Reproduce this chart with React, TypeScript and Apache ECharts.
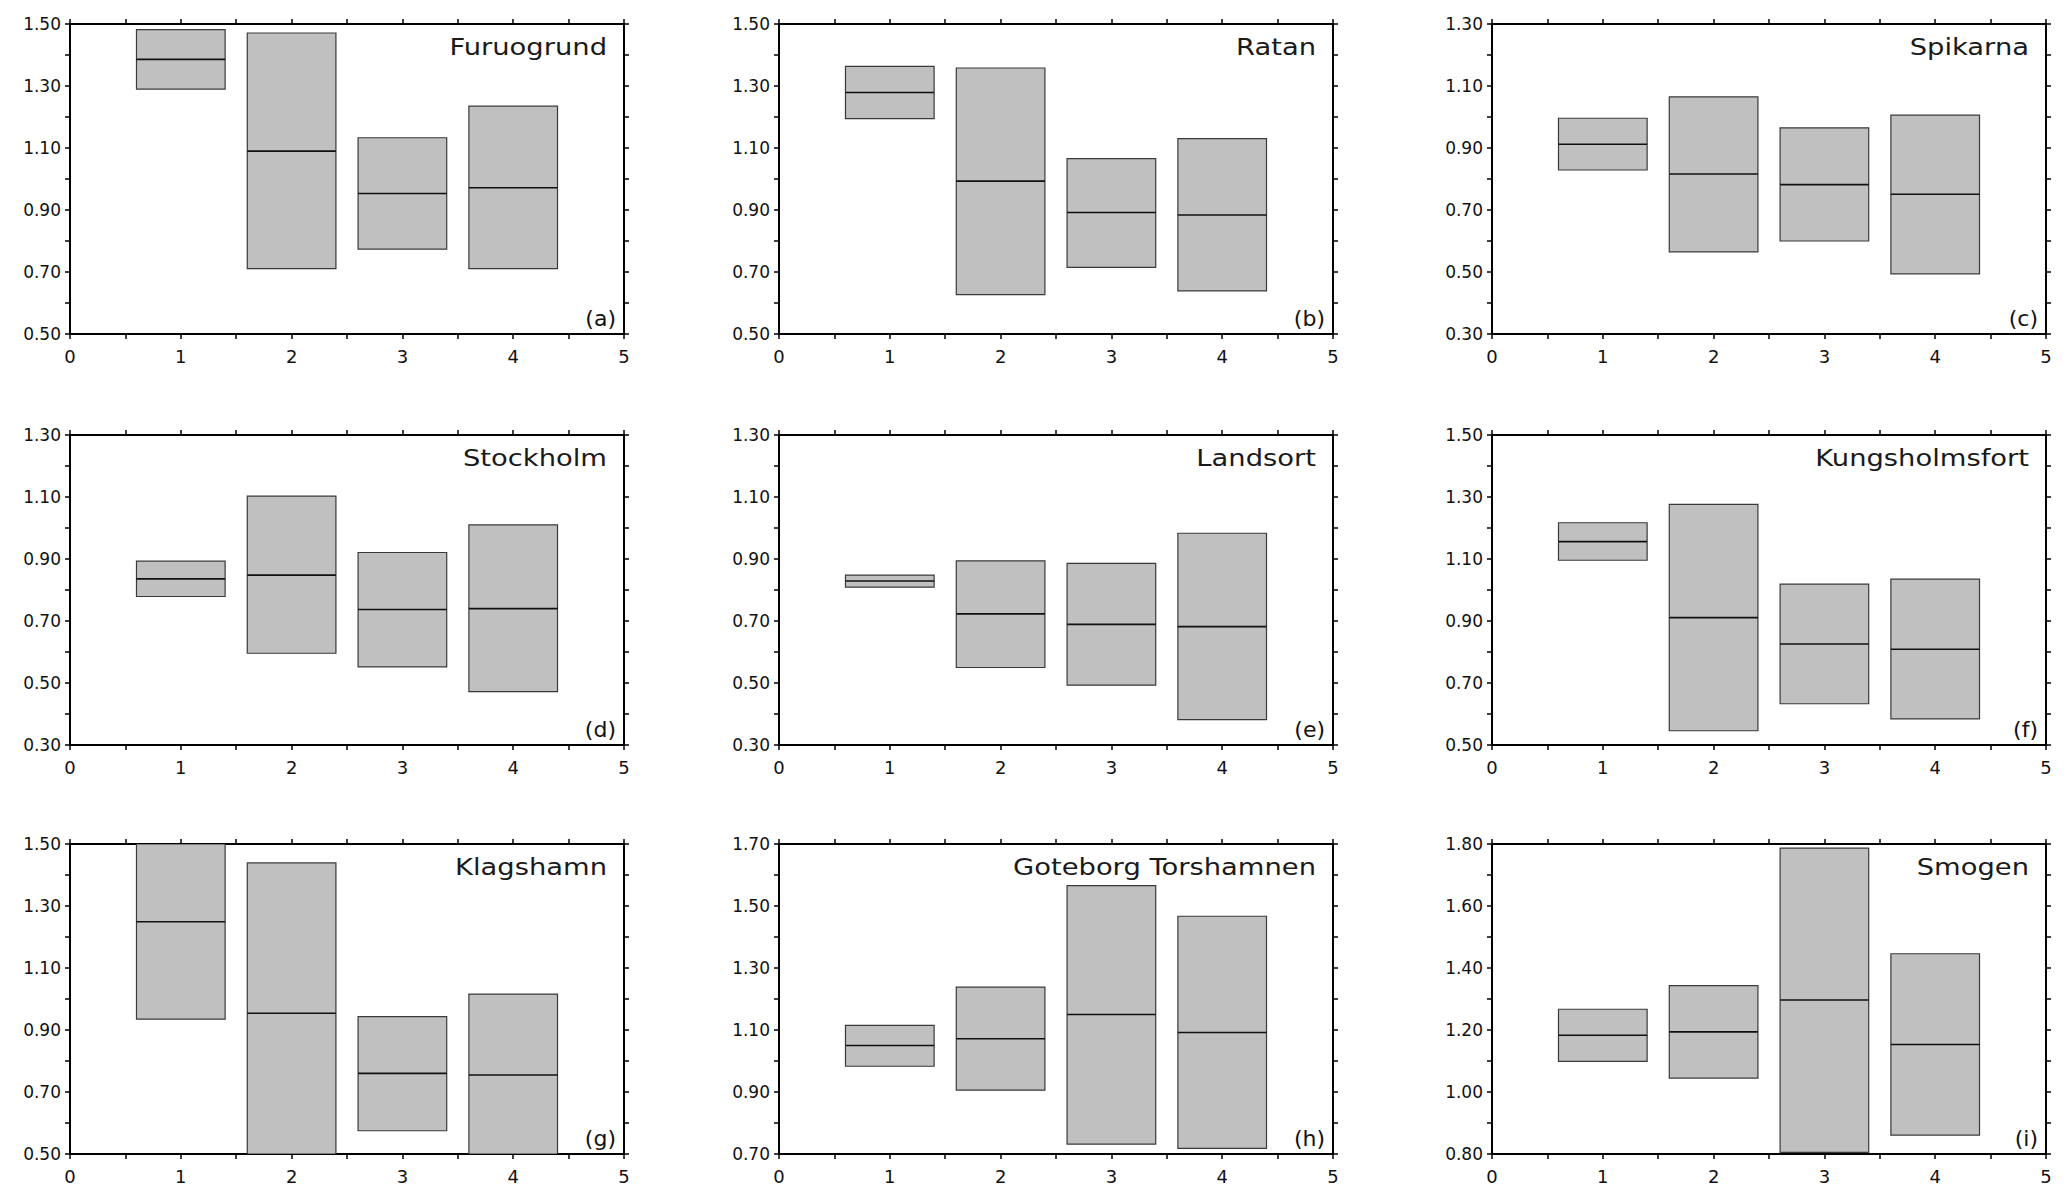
import React, { useEffect, useRef } from "react";
import * as echarts from "echarts";

const stations = [
  "Furuogrund", "Ratan", "Spikarna",
  "Stockholm", "Landsort", "Kungsholmsfort",
  "Klagshamn", "Goteborg Torshamnen", "Smogen",
];
const panelTags = ["(a)", "(b)", "(c)", "(d)", "(e)", "(f)", "(g)", "(h)", "(i)"];
const categories = [1, 2, 3, 4];
const xTickLabels = ["0", "1", "2", "3", "4", "5"];
const yMin = [0.5, 0.5, 0.3, 0.3, 0.3, 0.5, 0.5, 0.7, 0.8];
const yMax = [1.5, 1.5, 1.3, 1.3, 1.3, 1.5, 1.5, 1.7, 1.8];
const yStep = [0.2, 0.2, 0.2, 0.2, 0.2, 0.2, 0.2, 0.2, 0.2];

const boxHigh = [
  [1.482, 1.471, 1.133, 1.235],
  [1.363, 1.358, 1.066, 1.130],
  [0.996, 1.065, 0.965, 1.006],
  [0.893, 1.103, 0.921, 1.010],
  [0.848, 0.894, 0.886, 0.983],
  [1.217, 1.276, 1.019, 1.035],
  [1.500, 1.439, 0.943, 1.016],
  [1.115, 1.238, 1.566, 1.467],
  [1.267, 1.343, 1.787, 1.446],
];
const boxLow = [
  [1.290, 0.711, 0.774, 0.711],
  [1.195, 0.627, 0.715, 0.639],
  [0.829, 0.565, 0.600, 0.494],
  [0.779, 0.596, 0.552, 0.472],
  [0.809, 0.550, 0.493, 0.382],
  [1.096, 0.546, 0.633, 0.584],
  [0.935, 0.500, 0.575, 0.500],
  [0.983, 0.906, 0.732, 0.718],
  [1.099, 1.045, 0.805, 0.861],
];
const boxMedian = [
  [1.386, 1.090, 0.953, 0.972],
  [1.279, 0.993, 0.892, 0.884],
  [0.912, 0.816, 0.782, 0.751],
  [0.836, 0.848, 0.737, 0.740],
  [0.829, 0.723, 0.689, 0.682],
  [1.156, 0.911, 0.826, 0.809],
  [1.249, 0.954, 0.760, 0.755],
  [1.050, 1.072, 1.150, 1.092],
  [1.183, 1.194, 1.297, 1.153],
];

const colLeft = [70, 779, 1492];
const rowTop = [24, 435, 844];
const plotW = 554;
const plotH = 310;
const halfBox = 0.4;

function buildOption() {
  const grid: any[] = [];
  const xAxis: any[] = [];
  const yAxis: any[] = [];
  const series: any[] = [];
  const graphic: any[] = [];
  const axisLine = { show: true, onZero: false, lineStyle: { color: "#000", width: 2 } };
  const tick = { show: true, length: 5, lineStyle: { color: "#000", width: 1.5 } };
  const minor = { show: true, splitNumber: 2, length: 5, lineStyle: { color: "#000", width: 1.5 } };

  stations.forEach((name, i) => {
    const left = colLeft[i % 3];
    const top = rowTop[Math.floor(i / 3)];
    grid.push({ left, top, width: plotW, height: plotH, containLabel: false });
    const xBase = {
      type: "value", gridIndex: i, min: 0, max: xTickLabels.length - 1, interval: 1,
      axisLine, axisTick: tick, minorTick: minor, splitLine: { show: false },
    };
    xAxis.push({
      ...xBase, position: "bottom",
      axisLabel: { show: true, fontSize: 18, color: "#111", margin: 13, fontFamily: "DejaVu Sans",
        formatter: (v: number) => xTickLabels[Math.round(v)] ?? "" },
    });
    xAxis.push({ ...xBase, position: "top", axisLabel: { show: false } });
    const yBase = {
      type: "value", gridIndex: i, min: yMin[i], max: yMax[i], interval: yStep[i],
      axisLine, axisTick: tick, minorTick: minor, splitLine: { show: false },
    };
    yAxis.push({
      ...yBase, position: "left",
      axisLabel: { show: true, fontSize: 17, color: "#111", margin: 9, fontFamily: "DejaVu Sans",
        formatter: (v: number) => v.toFixed(2) },
    });
    yAxis.push({ ...yBase, position: "right", axisLabel: { show: false } });

    series.push({
      type: "custom",
      xAxisIndex: 2 * i,
      yAxisIndex: 2 * i,
      clip: true,
      data: categories.map((c, k) => [c, boxLow[i][k], boxHigh[i][k], boxMedian[i][k]]),
      renderItem: (params: any, api: any) => {
        const x = api.value(0);
        const lo = api.value(1);
        const hi = api.value(2);
        const md = api.value(3);
        const p1 = api.coord([x - halfBox, hi]);
        const p2 = api.coord([x + halfBox, lo]);
        const pm = api.coord([x, md]);
        const cs = params.coordSys;
        const rect = echarts.graphic.clipRectByRect(
          { x: p1[0], y: p1[1], width: p2[0] - p1[0], height: p2[1] - p1[1] },
          { x: cs.x, y: cs.y, width: cs.width, height: cs.height }
        );
        return {
          type: "group",
          children: [
            { type: "rect", shape: rect, style: { fill: "#c0c0c0", stroke: "#3a3a3a", lineWidth: 1.2 } },
            { type: "line", shape: { x1: p1[0], y1: pm[1], x2: p2[0], y2: pm[1] },
              style: { stroke: "#111", lineWidth: 1.6 } },
          ],
        };
      },
    });

    graphic.push({
      type: "text",
      x: left + plotW - 17,
      y: top + 23,
      scaleX: 1.19,
      style: { text: name, fontSize: 23, fontFamily: "DejaVu Sans", fill: "#1a1a1a",
        align: "right", verticalAlign: "middle" },
    });
    graphic.push({
      type: "text",
      x: left + plotW - 8,
      y: top + plotH - 16,
      style: { text: panelTags[i], fontSize: 22, fontFamily: "DejaVu Sans", fill: "#111",
        align: "right", verticalAlign: "middle" },
    });
  });

  return {
    animation: false,
    backgroundColor: "#fff",
    textStyle: { fontFamily: "DejaVu Sans" },
    grid, xAxis, yAxis, series, graphic,
  };
}

export default function App() {
  const ref = useRef<HTMLDivElement>(null);
  useEffect(() => {
    if (!ref.current) return;
    const chart = echarts.init(ref.current, null, { renderer: "svg" });
    chart.setOption(buildOption());
    return () => chart.dispose();
  }, []);
  return (
    <div
      ref={ref}
      style={{ position: "fixed", left: 0, top: 0, width: "2067px", height: "1201px", background: "#fff" }}
    />
  );
}
